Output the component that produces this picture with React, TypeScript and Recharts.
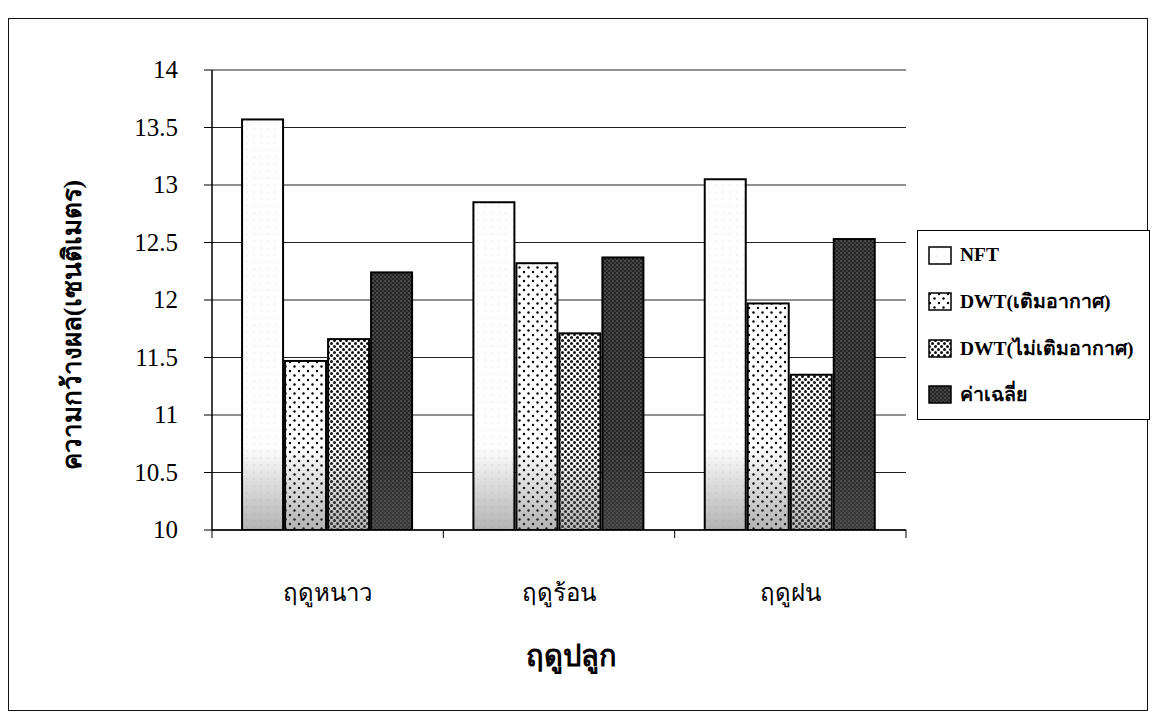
import React from 'react';
import { BarChart, Bar, XAxis, YAxis, CartesianGrid } from 'recharts';

// ค่าความกว้างผลเฉลี่ย (เซนติเมตร) แยกตามฤดูปลูก
const seasons = ['ฤดูหนาว', 'ฤดูร้อน', 'ฤดูฝน'];
const nft = [13.57, 12.85, 13.05];
const dwtAir = [11.47, 12.32, 11.97];
const dwtNoAir = [11.66, 11.71, 11.35];
const average = [12.24, 12.37, 12.53];
const yTicks = [10, 10.5, 11, 11.5, 12, 12.5, 13, 13.5, 14];

const seriesKeys = ['nft', 'dwtAir', 'dwtNoAir', 'average'];
const seriesNames = ['NFT', 'DWT(เติมอากาศ)', 'DWT(ไม่เติมอากาศ)', 'ค่าเฉลี่ย'];
const seriesFills = ['url(#pNft)', 'url(#pDwtAir)', 'url(#pDwtNoAir)', 'url(#pAvg)'];

const chartData = seasons.map((season, i) => ({
  season,
  nft: nft[i],
  dwtAir: dwtAir[i],
  dwtNoAir: dwtNoAir[i],
  average: average[i],
}));

const serif = '"Liberation Serif", "Times New Roman", serif';

// patterns shared by the bars and the legend swatches
const Patterns = () => (
  <svg width={0} height={0} style={{ position: 'absolute' }}>
    <defs>
      <pattern id="pNft" width={7} height={7} patternUnits="userSpaceOnUse">
        <rect width={7} height={7} fill="#fff" />
        <circle cx={2} cy={3} r={0.5} fill="#c8c8c8" />
      </pattern>
      <pattern id="pDwtAir" width={9} height={9} patternUnits="userSpaceOnUse">
        <rect width={9} height={9} fill="#fff" />
        <circle cx={2} cy={2} r={1.2} fill="#000" />
        <circle cx={6.5} cy={6.5} r={1.2} fill="#000" />
      </pattern>
      <pattern id="pDwtNoAir" width={6} height={6} patternUnits="userSpaceOnUse">
        <rect width={6} height={6} fill="#fff" />
        <circle cx={1.5} cy={1.5} r={1.5} fill="#111" />
        <circle cx={4.5} cy={4.5} r={1.5} fill="#111" />
      </pattern>
      <pattern id="pAvg" width={4} height={4} patternUnits="userSpaceOnUse">
        <rect width={4} height={4} fill="#262626" />
        <circle cx={1} cy={1} r={0.7} fill="#8a8a8a" />
        <circle cx={3} cy={3} r={0.7} fill="#6a6a6a" />
      </pattern>
      <linearGradient id="bottomShade" x1="0" y1="0" x2="0" y2="1">
        <stop offset="0" stopColor="#555" stopOpacity={0} />
        <stop offset="1" stopColor="#555" stopOpacity={0.45} />
      </linearGradient>
    </defs>
  </svg>
);

const ShadedBar = (props: any) => {
  const { x, y, width, height, fill } = props;
  if (!height || height <= 0) return null;
  const shadeH = Math.min(height, 85);
  return (
    <g>
      <rect x={x} y={y} width={width} height={height} fill={fill} />
      <rect x={x} y={y + height - shadeH} width={width} height={shadeH} fill="url(#bottomShade)" />
      <rect x={x} y={y} width={width} height={height} fill="none" stroke="#000" strokeWidth={2} />
    </g>
  );
};

const SeasonTick = (props: any) => {
  const { x, y, payload, index } = props;
  const half = payload.offset || 0;
  return (
    <g>
      <line x1={x - half} y1={y} x2={x - half} y2={y + 8} stroke="#000" />
      {index === seasons.length - 1 && <line x1={x + half} y1={y} x2={x + half} y2={y + 8} stroke="#000" />}
      <text x={x} y={y} dy={71} textAnchor="middle" fontSize={24} fontFamily={serif} fill="#000">
        {payload.value}
      </text>
    </g>
  );
};

const ValueTick = (props: any) => {
  const { x, y, payload } = props;
  return (
    <text x={x} y={y} dy={8} textAnchor="end" fontSize={25} fontFamily={serif} fill="#000">
      {payload.value}
    </text>
  );
};

const yTitle = (props: any) => {
  const vb = props.viewBox;
  const cx = vb.x + 22;
  const cy = vb.y + vb.height / 2 + 25;
  return (
    <text x={cx} y={cy} transform={`rotate(-90 ${cx} ${cy})`} textAnchor="middle" dominantBaseline="central"
      fontSize={26} fontWeight="bold" fontFamily={serif} fill="#000">
      ความกว้างผล(เซนติเมตร)
    </text>
  );
};

const xTitle = (props: any) => {
  const vb = props.viewBox;
  return (
    <text x={vb.x + vb.width / 2 + 12} y={vb.y + 136} textAnchor="middle" fontSize={29} fontWeight="bold"
      fontFamily={serif} fill="#000">
      ฤดูปลูก
    </text>
  );
};

const LegendBox = () => (
  <div style={{
    position: 'absolute', left: 917, top: 230, width: 233, height: 190, boxSizing: 'border-box',
    border: '1.5px solid #000', background: '#fff', fontFamily: serif,
  }}>
    {seriesNames.map((name, i) => (
      <div key={name} style={{ position: 'absolute', left: 10, top: 12 + i * 46.5, height: 24, display: 'flex', alignItems: 'center' }}>
        <svg width={24} height={19}>
          <rect x={1} y={1} width={22} height={17} fill={seriesFills[i]} stroke="#000" strokeWidth={1.5} />
        </svg>
        <span style={{ marginLeft: 8, fontSize: 19.5, fontWeight: 'bold', whiteSpace: 'nowrap' }}>{name}</span>
      </div>
    ))}
  </div>
);

export default function App() {
  return (
    <div style={{ position: 'absolute', left: 0, top: 0, width: 1154, height: 713, background: '#fff' }}>
      <Patterns />
      <div style={{ position: 'absolute', left: 8, top: 18, width: 1140, height: 693, boxSizing: 'border-box', border: '1.5px solid #111' }} />
      <div style={{ position: 'absolute', left: 0, top: 0 }}>
        <BarChart width={1154} height={713} data={chartData} margin={{ top: 70, right: 248, left: 50, bottom: 0 }}
          barGap={2} barCategoryGap="13%">
          <CartesianGrid horizontal vertical={false} stroke="#222" strokeWidth={1} />
          <XAxis dataKey="season" height={183} tickSize={0} tickMargin={0} tick={<SeasonTick />}
            axisLine={{ stroke: '#000', strokeWidth: 1.5 }} label={xTitle} />
          <YAxis domain={[10, 14]} ticks={yTicks} width={162} tickSize={8} tickMargin={26} interval={0}
            tick={<ValueTick />} axisLine={{ stroke: '#000', strokeWidth: 1.5 }}
            tickLine={{ stroke: '#000' }} label={yTitle} allowDataOverflow />
          <YAxis yAxisId="edge" orientation="right" domain={[10, 14]} width={0} tick={false} tickLine={false}
            axisLine={{ stroke: '#000', strokeWidth: 1 }} />
          {seriesKeys.map((key, i) => (
            <Bar key={key} dataKey={key} name={seriesNames[i]} fill={seriesFills[i]} shape={<ShadedBar />}
              isAnimationActive={false} />
          ))}
        </BarChart>
      </div>
      <LegendBox />
    </div>
  );
}
